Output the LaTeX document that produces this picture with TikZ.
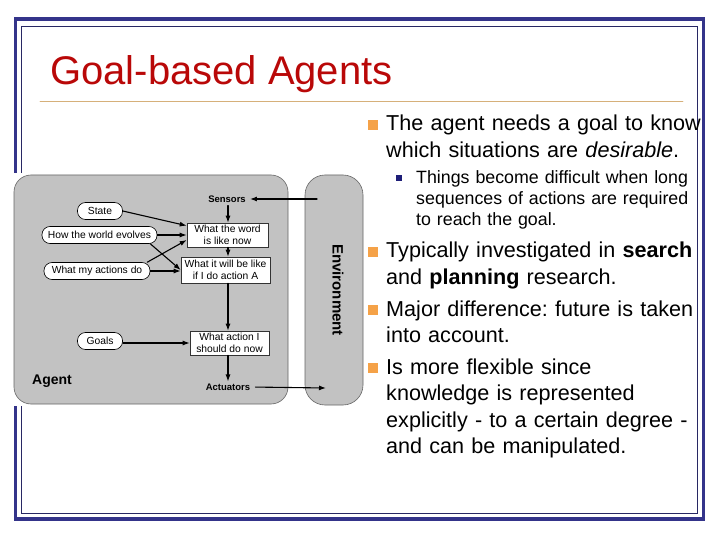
\documentclass[tikz,border=0pt]{standalone}
\usepackage{fontspec}
\setmainfont{Liberation Sans}
\usepackage{tikz}
\usetikzlibrary{arrows.meta}
\usepackage{xcolor}
\definecolor{framebl}{RGB}{52,52,138}
\definecolor{framenv}{RGB}{40,40,100}
\definecolor{titlered}{RGB}{185,8,8}
\definecolor{rulecol}{RGB}{214,176,122}
\definecolor{bulor}{RGB}{245,162,72}
\definecolor{bulnv}{RGB}{30,30,120}
\definecolor{agentgray}{RGB}{194,194,194}
\frenchspacing

\begin{document}
\begin{tikzpicture}[x=1pt,y=-1pt,>={Latex[length=7pt,width=5pt]},line cap=round,
  pill/.style={draw=black,fill=white,rounded corners=8pt,line width=0.6pt,minimum height=17pt,inner sep=0pt,font=\fontsize{10.3}{11}\selectfont},
  box/.style={draw=black!80,fill=white,line width=0.6pt,align=center,inner sep=0pt,font=\fontsize{10.3}{11.5}\selectfont},
  lbl/.style={inner sep=0pt,font=\bfseries\fontsize{9.5}{11}\selectfont},
  flow/.style={->,line width=1.1pt},
  blk/.style={draw=black!60,fill=agentgray,line width=0.6pt},
  txt/.style={anchor=base west,inner sep=0pt,text width=330pt,align=left,font=\fontsize{21.6}{26.5}\selectfont},
  subtxt/.style={anchor=base west,inner sep=0pt,text width=300pt,align=left,font=\fontsize{17.8}{21}\selectfont},
  bul/.style={fill=bulor,minimum size=10pt,inner sep=0pt},
  subbul/.style={fill=bulnv,minimum size=6pt,inner sep=0pt}]
\useasboundingbox (0,0) rectangle (720,540);
% slide frame
\draw[framebl,line width=3.5pt] (15.5,19) rectangle (703.5,519);
\draw[framenv,line width=0.8pt] (21.5,26) rectangle (697,513.5);
\node[anchor=base west,inner sep=0pt,text=titlered,font=\fontsize{40}{48}\selectfont] (title) at (50,85) {Goal-based Agents};
\draw[rulecol,line width=0.8pt] (40,101) -- (683,101);

% agent picture
\fill[white] (10,173) rectangle (366,406);
\draw[blk,rounded corners=17pt] (14,175) rectangle (288,404);
\draw[blk,rounded corners=20pt] (305,175) rectangle (363,405);
\node[rotate=-90,inner sep=0pt,font=\bfseries\fontsize{15}{18}\selectfont] (envlbl) at (338,290) {Environment};
\node[inner sep=0pt,font=\bfseries\fontsize{14}{16}\selectfont] (agent) at (52,381) {Agent};

\node[lbl] (sensors) at (227,199) {Sensors};
\node[lbl] (actuators) at (228,387) {Actuators};
\node[pill,minimum width=45pt] (state) at (100,211) {State};
\node[pill,minimum width=115pt] (evolves) at (99.5,235) {How the world evolves};
\node[pill,minimum width=106pt] (acts) at (97,271) {What my actions do};
\node[pill,minimum width=45pt] (goals) at (100,341) {Goals};
\node[box,minimum width=81pt,minimum height=24pt] (now) at (227.5,235) {What the word\\is like now};
\node[box,minimum width=89pt,minimum height=26pt] (willbe) at (225.5,270) {What it will be like\\if I do action A};
\node[box,minimum width=79pt,minimum height=24pt] (todo) at (229.5,343) {What action I\\should do now};
\coordinate (spine) at (228,0);
\coordinate (envin) at (317,199);
\coordinate (envout) at (326,388);

\draw[flow,shorten >=4pt] (envin) -- (sensors.east);
\draw[flow,shorten <=3pt] (sensors.south -| spine) -- (now.north -| spine);
\draw[flow] (now.south -| spine) -- (willbe.north -| spine);
\draw[flow] (willbe.south -| spine) -- (todo.north -| spine);
\draw[flow,shorten >=2pt] (todo.south -| spine) -- (actuators.north -| spine);
\draw[flow,shorten <=5pt] (actuators.east) -- (envout);
\draw[flow] (state.east) -- ([yshift=-3pt]now.north west);
\draw[flow] (evolves.east) -- (now.west);
\draw[flow] ([xshift=-7pt]evolves.south east) -- (willbe.west);
\draw[flow] ([xshift=-3pt]acts.north east) -- ([yshift=-5pt]now.west);
\draw[flow] (acts.east) -- (acts.east -| willbe.west);
\draw[flow] (goals.east |- todo) -- (todo.west);

% bullet text
\node[bul] (b1) at (373,125) {};
\node[txt] (t1) at (386,131) {The agent needs a goal to know\\which situations are \textit{desirable}.};
\node[subbul] (s1) at (399,178.5) {};
\node[subtxt] (st1) at (416,184) {Things become difficult when long\\sequences of actions are required\\to reach the goal.};
\node[bul] (b2) at (373,252) {};
\node[txt] (t2) at (386,258) {Typically investigated in \textbf{search}\\and \textbf{planning} research.};
\node[bul] (b3) at (373,310) {};
\node[txt] (t3) at (386,316) {Major difference: future is taken\\into account.};
\node[bul] (b4) at (373,368) {};
\node[txt] (t4) at (386,374) {Is more flexible since\\knowledge is represented\\explicitly - to a certain degree -\\and can be manipulated.};
\end{tikzpicture}
\end{document}
